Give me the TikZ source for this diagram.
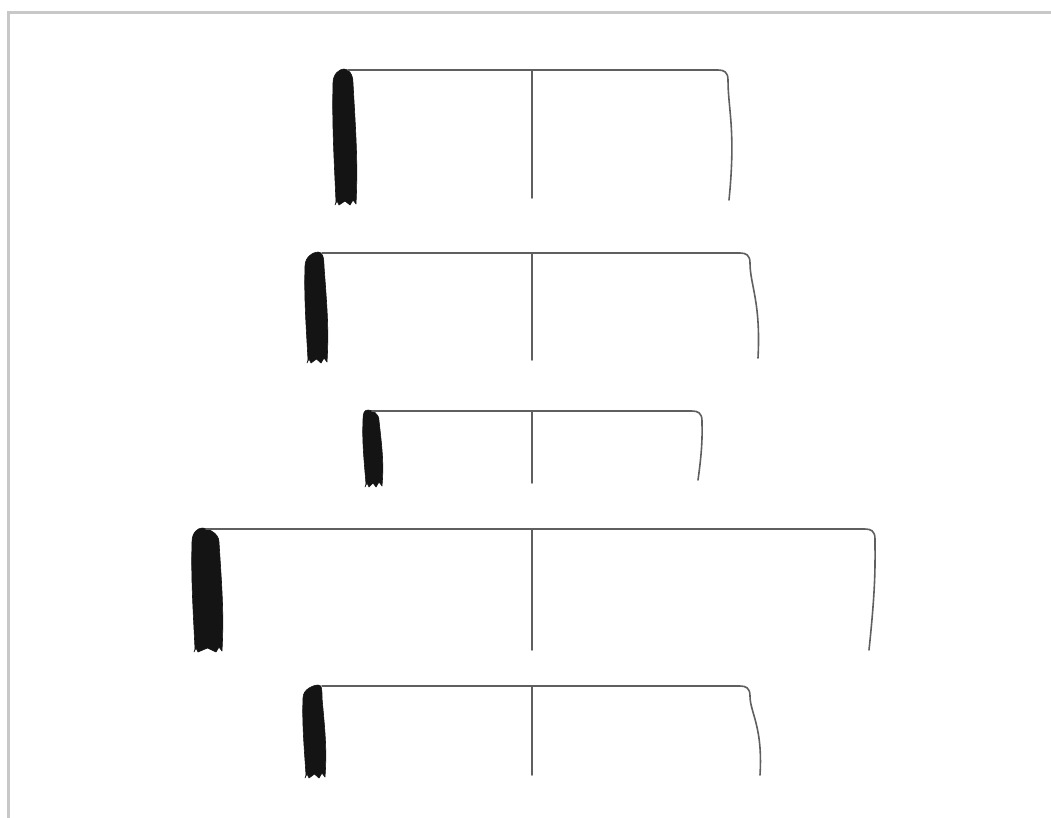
\documentclass[tikz,border=0pt]{standalone}
\usepackage{tikz}
\usetikzlibrary{calc}
\usepackage{xcolor}
\definecolor{ink}{RGB}{20,20,20}
\definecolor{rule}{RGB}{95,95,95}
\definecolor{frame}{RGB}{200,200,200}

\begin{document}
\begin{tikzpicture}[
  x=1pt, y=-1pt,
  root/.style={fill=ink, draw=ink, line width=0.6pt, line join=round},
  shaft/.style={draw=rule, line width=1.6pt, line cap=round},
  edge/.style={draw=frame, line width=2.4pt}
]
  \useasboundingbox (0,0) rectangle (1051,818);
  % outer frame (only left and top visible)
  \draw[edge] (8.5,818) -- (8.5,12.5) -- (1051,12.5);

  % one row: top/bottom of blob, blob left/right, apex, corner, bulge, end x, end y, middle end
  \foreach \T/\B/\L/\R/\A/\C/\X/\Z/\Y/\M in {
      69/204/333/357/344/726/735/729/200/198,
      252/362/305/328/318/748/760/758/358/360,
      410/486/363/383/368/700/702/698/480/483,
      528/651/192/223/202/873/875/869/650/650,
      685/777/303/326/318/748/762/760/775/775}
  {
    \pgfmathsetmacro{\h}{\B-\T}
    \pgfmathsetmacro{\k}{min(0.14*\h,14)}
    % dark root blob
    \fill[root] (\L+3,\B-2)
      .. controls (\L+1,\B-0.35*\h) and (\L-1,\T+0.4*\h) .. (\L,\T+\k)
      .. controls (\L,\T+0.3*\k) and (\A-4,\T) .. (\A,\T)
      .. controls (\A+4,\T) and (\R-4,\T+0.3*\k) .. (\R-4,\T+\k)
      .. controls (\R-1,\T+0.5*\h) and (\R+1,\B-0.3*\h) .. (\R-1,\B)
      -- (\R-4,\B-4) -- (\R-7,\B+1) -- ({(\L+\R)/2},\B-3)
      -- (\L+6,\B+1) -- (\L+4,\B-3) -- (\L+2,\B+1) -- cycle;
    % top line with curved right end
    \draw[shaft] (\A+4,\T+1) -- (\C-8,\T+1)
      .. controls (\C-2,\T+1) and (\C+2,\T+3) .. (\C+2,\T+11)
      .. controls (\C+2,\T+0.3*\h) and (\X+1,\T+0.45*\h) .. (\Z,\Y);
    % middle line
    \draw[shaft] (532,\T+1) -- (532,\M);
  }
\end{tikzpicture}
\end{document}
